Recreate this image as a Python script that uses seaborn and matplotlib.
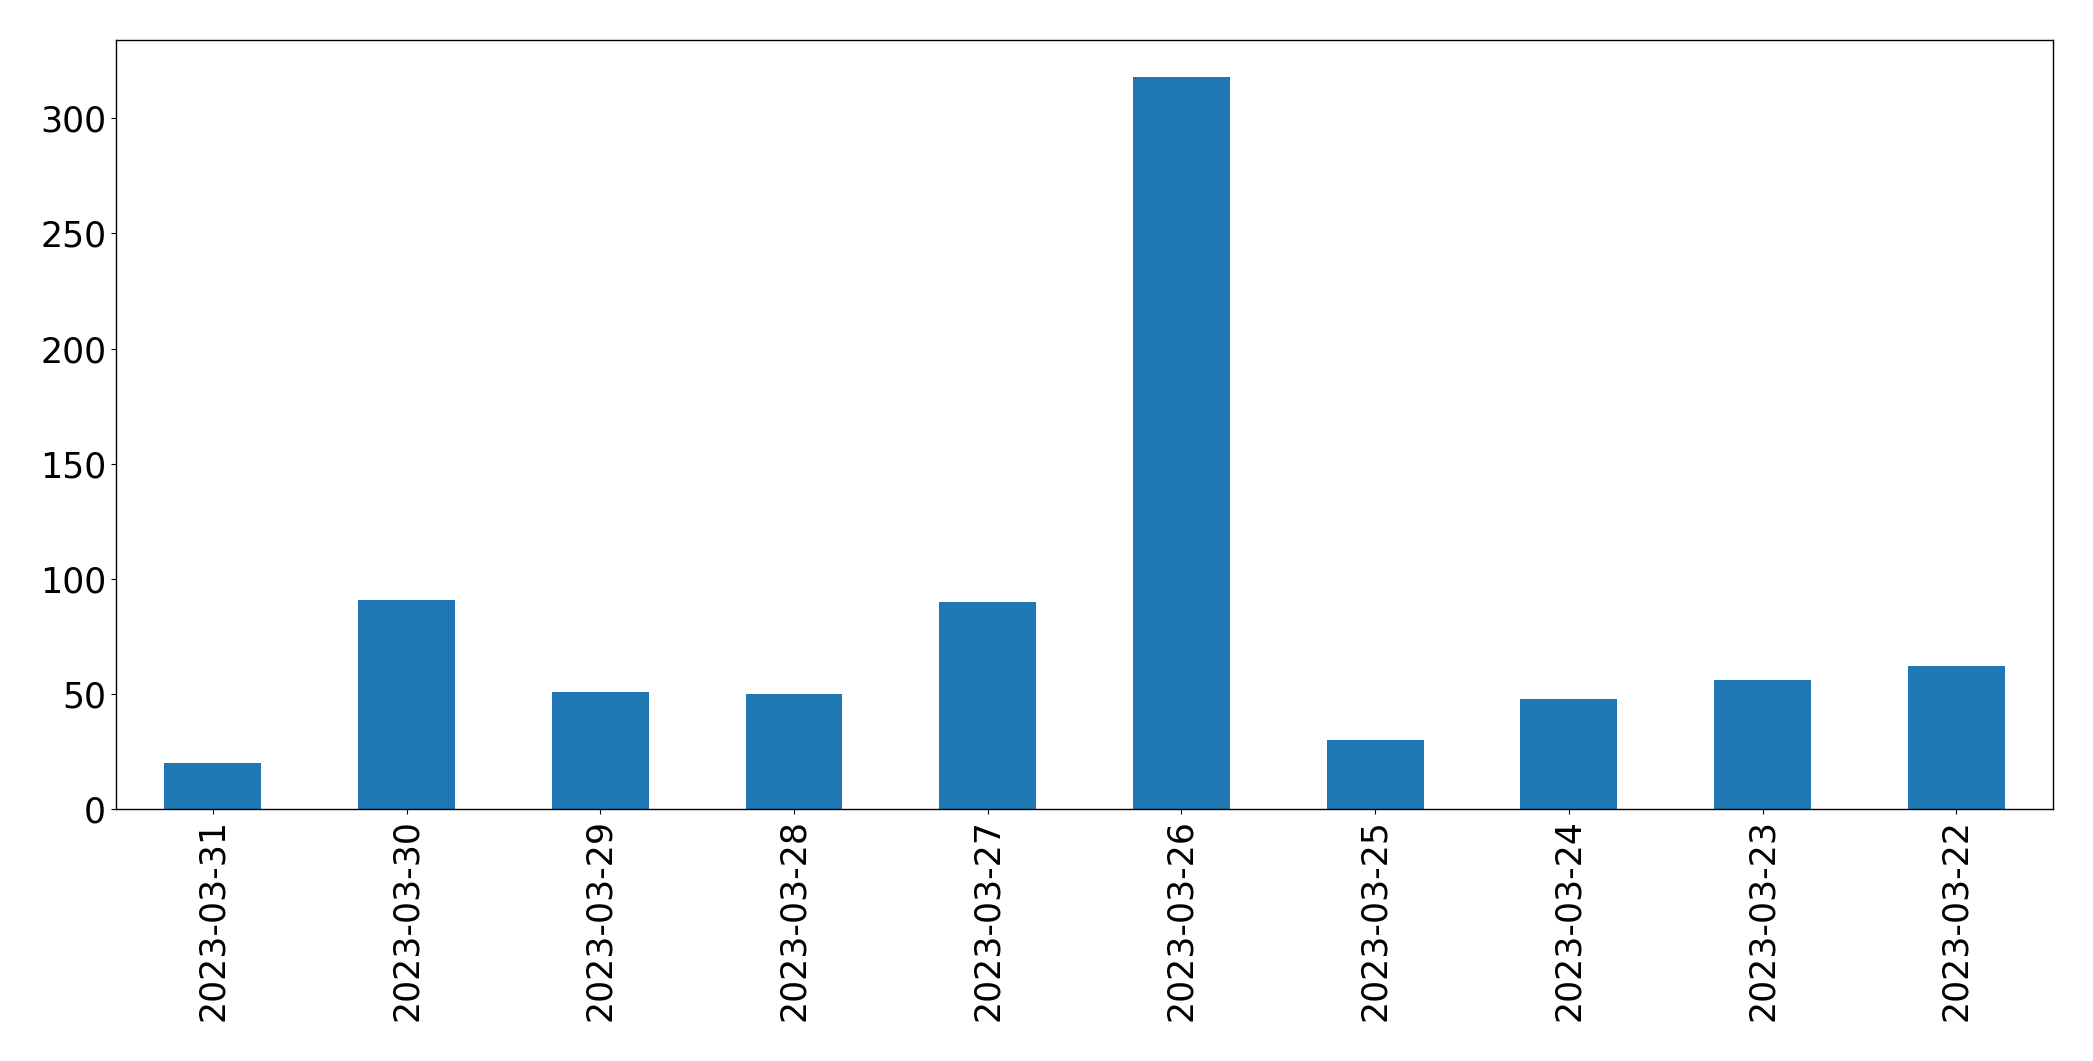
import matplotlib
matplotlib.use("Agg")
import matplotlib.pyplot as plt
import pandas as pd
import seaborn as sns

# daily counts, newest first (as in the reference)
dates = ["2023-03-31", "2023-03-30", "2023-03-29", "2023-03-28", "2023-03-27",
         "2023-03-26", "2023-03-25", "2023-03-24", "2023-03-23", "2023-03-22"]
counts = [20, 91, 51, 50, 90, 318, 30, 48, 56, 62]

df = pd.DataFrame({"date": dates, "count": counts})

fig, ax = plt.subplots(figsize=(20.93, 10.61), dpi=100)
sns.barplot(data=df, x="date", y="count", order=dates, ax=ax,
            color="#1f77b4", saturation=1, width=0.5,
            linewidth=0, edgecolor="none")

ax.set_xlim(-0.5, len(dates) - 0.5)
ax.set_ylim(0, max(counts) * 1.05)
ax.set_xlabel("")
ax.set_ylabel("")
ax.tick_params(axis="x", labelrotation=90, labelsize=25, color="black")
ax.tick_params(axis="y", labelsize=25, color="black")
for sp in ax.spines.values():
    sp.set_color("black")
    sp.set_linewidth(1.0)

fig.subplots_adjust(left=0.0554, right=0.981, top=0.962, bottom=0.2375)
fig.savefig("out.png", dpi=100)
plt.close(fig)
